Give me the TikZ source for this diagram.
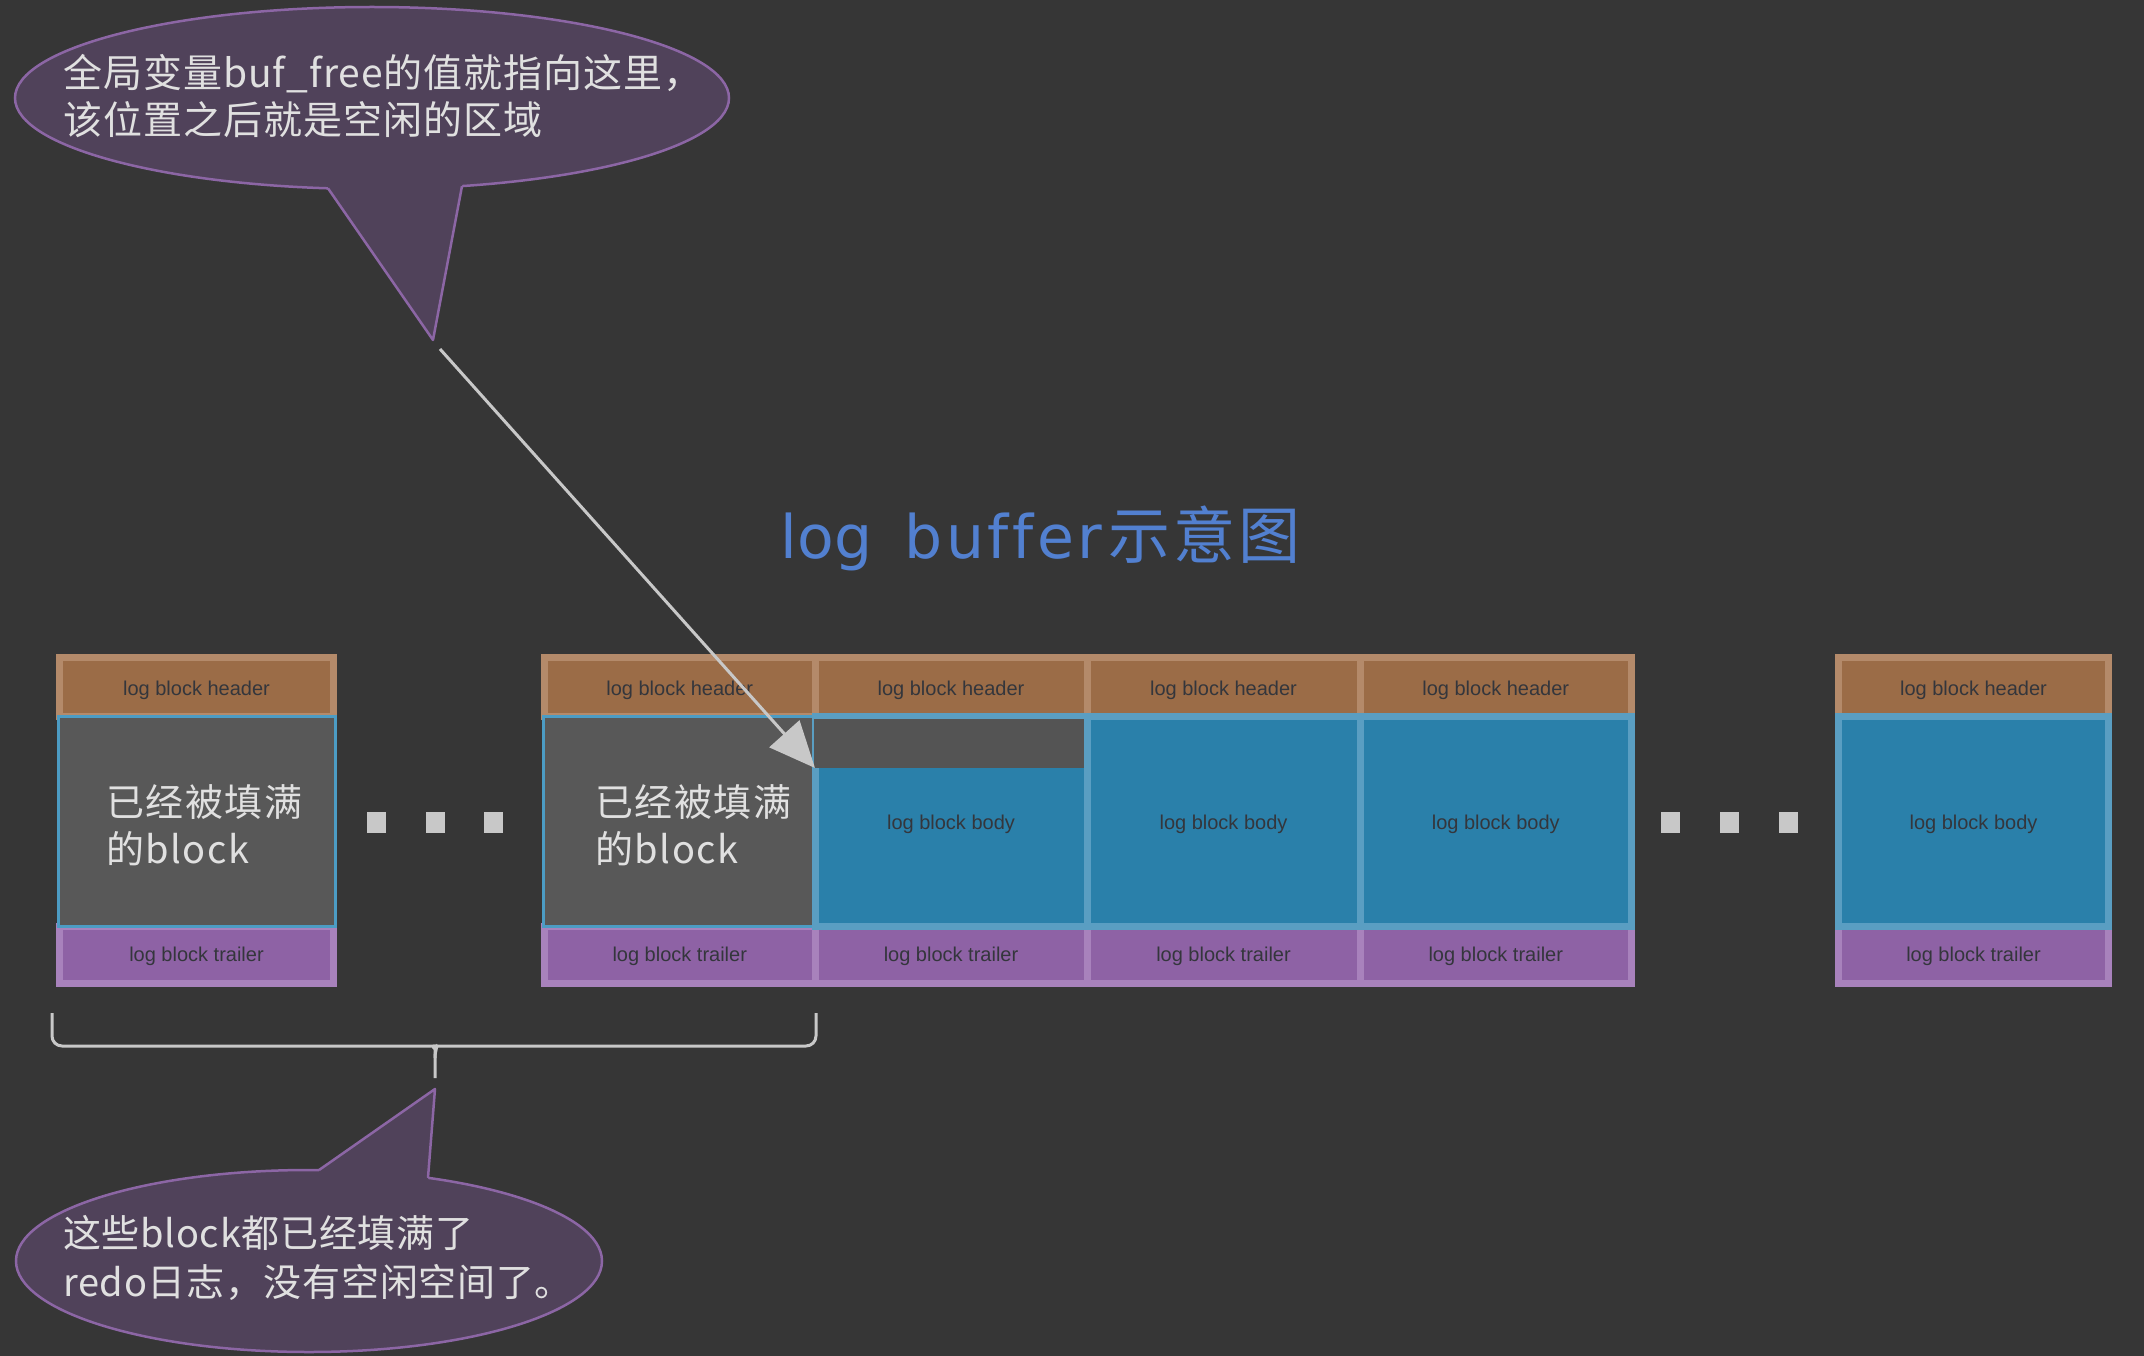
\documentclass[tikz,border=0pt]{standalone}
\usepackage{fontspec}
\setmainfont{Liberation Sans}
\newfontfamily\cjk{Noto Sans CJK SC}
\newfontfamily\cjkwide[LetterSpace=4]{Noto Sans CJK SC}
\newfontfamily\cjktop[LetterSpace=2.5]{Noto Sans CJK SC}
\newfontfamily\cjkbot[LetterSpace=1.8]{Noto Sans CJK SC}
\newfontfamily\dvs{DejaVu Sans}
\usetikzlibrary{arrows.meta}
\definecolor{bgc}{RGB}{54,54,54}
\definecolor{hdrfill}{RGB}{155,108,71}
\definecolor{hdrline}{RGB}{180,138,106}
\definecolor{trlfill}{RGB}{142,98,165}
\definecolor{trlline}{RGB}{168,130,188}
\definecolor{blufill}{RGB}{42,128,170}
\definecolor{bluline}{RGB}{90,158,194}
\definecolor{gryfill}{RGB}{88,88,88}
\definecolor{gryline}{RGB}{76,156,196}
\definecolor{celltext}{RGB}{52,54,60}
\definecolor{lighttext}{RGB}{224,224,224}
\definecolor{callfill}{RGB}{80,66,90}
\definecolor{callline}{RGB}{140,102,165}
\definecolor{titleblue}{RGB}{82,128,208}
\definecolor{lgray}{RGB}{200,200,200}
\begin{document}
\begin{tikzpicture}[x=1pt,y=-1pt,
  cellfont/.style={font=\fontsize{20}{24}\selectfont, text=celltext},
  hdr/.style={rectangle, inner sep=0pt, fill=hdrfill, draw=hdrline, line width=7pt, cellfont, text height=18pt, text depth=0pt},
  trl/.style={rectangle, inner sep=0pt, fill=trlfill, draw=trlline, line width=7pt, cellfont, text height=14pt, text depth=0pt},
  blu/.style={rectangle, inner sep=0pt, fill=blufill, draw=bluline, line width=7pt, cellfont, text height=16pt, text depth=0pt},
  gry/.style={rectangle, inner sep=0pt, fill=gryfill, draw=gryline, line width=3pt},
  strip/.style={rectangle, inner sep=0pt, fill=gryfill!96!black},
  graytxt/.style={inner sep=0pt, align=left, text=lighttext, font=\cjkwide\fontsize{38}{47}\selectfont},
  calltxt/.style={inner sep=0pt, align=left, text=lighttext},
  callout/.style={fill=callfill, draw=callline, line width=2.5pt},
  ttl/.style={inner sep=0pt, anchor=base west, text=titleblue},
  dotsq/.style={rectangle, inner sep=0pt, fill=lgray, minimum width=19pt, minimum height=21pt},
  pointer/.style={draw=lgray, line width=3pt, -{Triangle[length=46pt, width=40pt]}},
  bracepath/.style={draw=lgray, line width=3pt}
]
\useasboundingbox (0,0) rectangle (2144,1356);
\fill[bgc] (0,0) rectangle (2144,1356);

% ---------- top callout ----------
\coordinate (c1) at (372,98);
\coordinate (c1a) at (328,188.3);
\coordinate (c1b) at (462,186.1);
\coordinate (c1tip) at (433,340);
\draw[callout] (c1) ellipse [x radius=357, y radius=91];
\fill[callfill] (c1a) -- (c1tip) -- (c1b) -- (462,176) -- (328,176) -- cycle;
\draw[callline, line width=2.5pt, line join=round] (c1a) -- (c1tip) -- (c1b);
\node[calltxt, font=\cjktop\fontsize{39}{47}\selectfont] (t1) at (383,96) {全局变量buf\_free的值就指向这里，\\该位置之后就是空闲的区域};

% ---------- title ----------
\node[ttl] (title1) at (780.5,558) {\dvs\fontsize{60}{70}\selectfont log};
\node[ttl] (title2) at (904.5,558) {\dvs\fontsize{60}{70}\selectfont b\kern3.5pt u\kern3.5pt f\kern3.5pt f\kern3.5pt e\kern3.5pt r};
\node[ttl] (title3) at (1108,558) {\cjk\fontsize{62}{70}\selectfont 示\kern3pt 意\kern3pt 图};

% ---------- headers ----------
\node[hdr, minimum width=274pt, minimum height=58.5pt] (hL) at (196.5,686.75) {log block header};
\node[hdr, minimum width=270.5pt, minimum height=58.5pt] (h1) at (679.75,686.75) {log block header};
\node[hdr, minimum width=272pt, minimum height=58.5pt] (h2) at (951,686.75) {log block header};
\node[hdr, minimum width=273pt, minimum height=58.5pt] (h3) at (1223.5,686.75) {log block header};
\node[hdr, minimum width=271.5pt, minimum height=58.5pt] (h4) at (1495.75,686.75) {log block header};
\node[hdr, minimum width=270pt, minimum height=58.5pt] (hR) at (1973.5,686.75) {log block header};

% ---------- trailers ----------
\node[trl, minimum width=274pt, minimum height=57.5pt] (rL) at (196.5,954.75) {log block trailer};
\node[trl, minimum width=270.5pt, minimum height=57.5pt] (r1) at (679.75,954.75) {log block trailer};
\node[trl, minimum width=272pt, minimum height=57.5pt] (r2) at (951,954.75) {log block trailer};
\node[trl, minimum width=273pt, minimum height=57.5pt] (r3) at (1223.5,954.75) {log block trailer};
\node[trl, minimum width=271.5pt, minimum height=57.5pt] (r4) at (1495.75,954.75) {log block trailer};
\node[trl, minimum width=270pt, minimum height=57.5pt] (rR) at (1973.5,954.75) {log block trailer};

% ---------- bodies ----------
\node[gry, minimum width=277pt, minimum height=210pt] (bL) at (196.5,821) {};
\node[graytxt, anchor=west] (tL) at (106,825) {已经被填满\\的block};
\node[gry, minimum width=272pt, minimum height=210pt] (b1) at (679,821) {};
\node[graytxt, anchor=west] (t1b) at (595,825) {已经被填满\\的block};
\node[blu, minimum width=272pt, minimum height=210pt] (b2) at (951,821) {log block body};
\node[strip, minimum width=270pt, minimum height=49pt] (s2) at (948.5,743.5) {};
\node[blu, minimum width=273pt, minimum height=210pt] (b3) at (1223.5,821) {log block body};
\node[blu, minimum width=271.5pt, minimum height=210pt] (b4) at (1495.75,821) {log block body};
\node[blu, minimum width=270pt, minimum height=210pt] (bR) at (1973.5,821) {log block body};

% ---------- dots ----------
\node[dotsq] (d1) at (376.5,822.5) {};
\node[dotsq] (d2) at (435,822.5) {};
\node[dotsq] (d3) at (493.5,822.5) {};
\node[dotsq] (d4) at (1670.5,822.5) {};
\node[dotsq] (d5) at (1729,822.5) {};
\node[dotsq] (d6) at (1788.5,822.5) {};

% ---------- arrow ----------
\coordinate (astart) at (440,349);
\coordinate (aend) at (815,768);
\draw[pointer] (astart) -- (aend);

% ---------- brace ----------
\coordinate (brL) at (52,1013);
\coordinate (brR) at (816,1013);
\coordinate (brT) at (435,1078);
\draw[bracepath, rounded corners=10pt] (brL) -- (52,1046) -- (424,1046)
  .. controls (432,1046) and (435,1050) .. (435,1058) -- (brT);
\draw[bracepath, rounded corners=10pt] (brR) -- (816,1046) -- (446,1046)
  .. controls (438,1046) and (435,1050) .. (435,1058);

% ---------- bottom callout ----------
\coordinate (c2) at (309,1261);
\coordinate (c2a) at (319,1170.05);
\coordinate (c2b) at (428,1177.8);
\coordinate (c2tip) at (435,1089);
\draw[callout] (c2) ellipse [x radius=293, y radius=91];
\fill[callfill] (c2a) -- (c2tip) -- (c2b) -- (428,1188) -- (319,1182) -- cycle;
\draw[callline, line width=2.5pt, line join=round] (c2a) -- (c2tip) -- (c2b);
\node[calltxt, font=\cjkbot\fontsize{38}{49}\selectfont] (t2) at (318,1258) {这些block都已经填满了\\redo日志，没有空闲空间了。};
\end{tikzpicture}
\end{document}
